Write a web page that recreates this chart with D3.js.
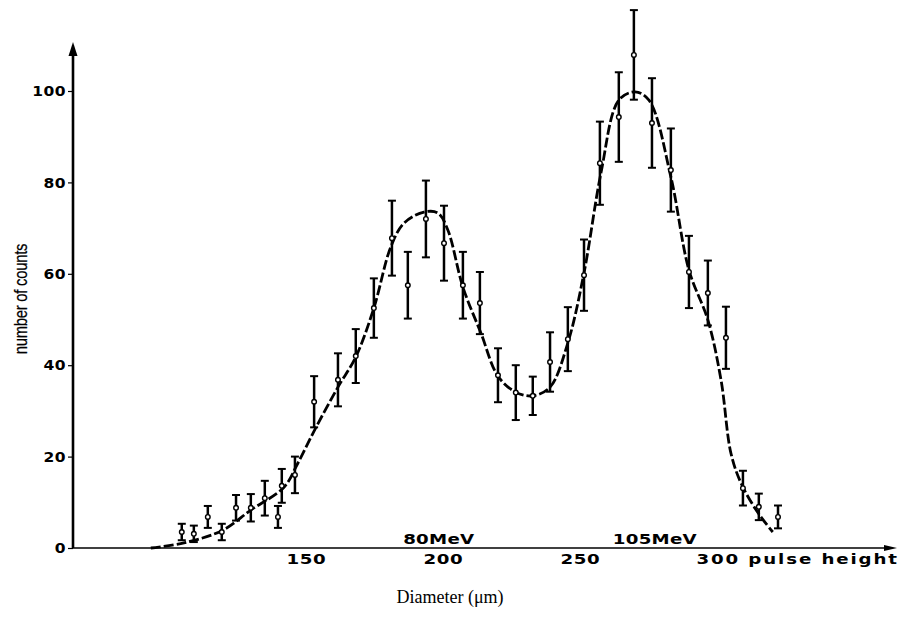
<!DOCTYPE html>
<html><head><meta charset="utf-8">
<script src="https://cdn.jsdelivr.net/npm/d3@7"></script>
<style>
html,body{margin:0;padding:0;background:#fff;}
svg{display:block;}
.tk{font-family:"DejaVu Sans",sans-serif;font-weight:bold;font-size:13.5px;letter-spacing:0.4px;fill:#000;}
</style></head>
<body><svg id="c" width="900" height="623"></svg>
<script>
// pulse height of each measured point
const pulseHeight = [104.7,109.1,114.2,119.3,124.5,129.9,135.0,139.8,141.2,146.0,153.0,161.7,168.2,174.8,181.4,187.2,193.8,200.4,207.3,213.5,220.1,226.6,232.8,239.1,245.6,251.5,257.3,264.2,269.7,276.3,283.2,289.8,296.7,303.3,309.5,315.3,322.3];
// number of counts
const counts = [3.5,3.1,6.8,3.5,8.8,8.8,10.9,6.8,13.6,16.0,32.0,36.8,42.0,52.5,67.8,57.5,72.0,66.7,57.5,53.6,37.8,34.0,33.3,40.7,45.7,59.7,84.2,94.3,107.9,93.0,82.7,60.4,55.8,46.0,13.1,9.0,6.8];
// statistical error (half-length of bar)
const errors = [1.8,1.8,2.4,1.8,2.8,3.0,3.8,2.4,3.7,4.0,5.6,5.8,5.9,6.5,8.2,7.3,8.4,8.2,7.3,6.8,5.9,6.0,4.2,6.5,7.0,7.8,9.1,9.8,9.8,9.8,9.1,7.9,7.1,6.8,3.8,2.9,2.5];
// fitted curve
const fitX = [93.4,105.5,119.7,129.9,142.0,147.1,153.6,161.7,168.2,174.8,181.0,185.8,193.1,198.2,201.8,207.3,213.9,220.1,226.6,232.8,239.1,245.6,251.5,257.7,264.2,270.1,275.2,283.2,289.8,296.7,301.5,305.1,308.8,315.0,320.4];
const fitY = [0,1.1,3.9,8.3,13.3,18.6,26.3,35.2,41.8,52.5,65.9,71.1,73.5,73.3,69.6,57.1,47.0,37.6,34.1,33.3,35.2,44.9,60.2,82.1,98.0,99.8,98.0,81.2,60.8,49.9,36.8,20.8,14.2,7.7,3.5];
const xTicks = [150,200,250,300];
const xTickLabels = ["150","200","250","300 pulse height"];
const yTicks = [0,20,40,60,80,100];
const peakLabels = ["80MeV","105MeV"];
const peakLabelX = [185.5,262.0];

const svg = d3.select("#c");
const x = d3.scaleLinear().domain([65,365]).range([73,895]);
const y = d3.scaleLinear().domain([0,100]).range([548,91]);
const SX = 1.35; // wide lettering of the original

// y axis
svg.append("line").attr("x1",73).attr("x2",73).attr("y1",y(0)).attr("y2",52)
  .attr("stroke","#000").attr("stroke-width",2.6);
svg.append("path").attr("d","M73,42 L68.5,56 L77.5,56 Z").attr("fill","#000");
const ya = svg.append("g").attr("transform","translate(73,0)")
  .call(d3.axisLeft(y).tickValues(yTicks).tickSize(5).tickPadding(0).tickFormat(d3.format("d")));
ya.select(".domain").remove();
ya.selectAll("line").attr("stroke","#000").attr("stroke-width",1.2);
ya.selectAll("text").attr("class","tk").attr("font-size",null).attr("font-family",null)
  .attr("dy","0.35em").attr("x",-7/1.15).attr("transform","scale(1.15,1)");

svg.append("text").attr("transform","translate(27,299) rotate(-90) scale(0.8,1)")
  .attr("text-anchor","middle")
  .style("font-family","'Liberation Sans',sans-serif")
  .style("font-size","18.5px").style("letter-spacing","-0.3px")
  .style("stroke","#000").style("stroke-width","0.25px")
  .text("number of counts");

// x axis
svg.append("line").attr("x1",73).attr("x2",888).attr("y1",y(0)).attr("y2",y(0))
  .attr("stroke","#000").attr("stroke-width",1.5);
svg.append("path").attr("d",`M897,${y(0)} L884,${y(0)-3} L884,${y(0)+3} Z`).attr("fill","#000");
const xa = svg.append("g").attr("transform",`translate(0,${y(0)})`)
  .call(d3.axisBottom(x).tickValues(xTicks).tickSize(0).tickPadding(6).tickFormat((d,i)=>xTickLabels[i]));
xa.select(".domain").remove();
xa.selectAll("text").attr("class","tk").attr("font-size",null).attr("font-family",null).attr("dy","0.71em")
  .attr("transform",`scale(${SX},1)`);
xa.selectAll("text").filter((d,i)=>i===xTicks.length-1)
  .attr("text-anchor","start").attr("x",-21/SX).style("letter-spacing","1.4px");

// peak labels
svg.selectAll(".pk").data(peakLabels).join("text").attr("class","tk")
  .attr("transform",(d,i)=>`translate(${x(peakLabelX[i])},${y(0)-4}) scale(${SX},1)`)
  .style("letter-spacing","0.2px").text(d=>d);

// fitted curve
const line = d3.line().x(d=>x(d[0])).y(d=>y(d[1])).curve(d3.curveCatmullRom.alpha(0.5));
svg.append("path").datum(fitX.map((v,i)=>[v,fitY[i]])).attr("d",line)
  .attr("fill","none").attr("stroke","#000").attr("stroke-width",2.8).attr("stroke-dasharray","10,3");

// error bars
const pts = pulseHeight.map((v,i)=>({x:v,c:counts[i],e:errors[i]}));
const g = svg.append("g");
g.selectAll(".eb").data(pts).join("line")
  .attr("x1",d=>x(d.x)).attr("x2",d=>x(d.x)).attr("y1",d=>y(d.c+d.e)).attr("y2",d=>y(d.c-d.e))
  .attr("stroke","#000").attr("stroke-width",2.5);
["+","-"].forEach(s=>{
  g.selectAll(".cap"+(s==="+"?"t":"b")).data(pts).join("line")
    .attr("x1",d=>x(d.x)-4).attr("x2",d=>x(d.x)+4)
    .attr("y1",d=>y(s==="+"?d.c+d.e:d.c-d.e)).attr("y2",d=>y(s==="+"?d.c+d.e:d.c-d.e))
    .attr("stroke","#000").attr("stroke-width",2);
});
g.selectAll(".pt").data(pts).join("circle")
  .attr("cx",d=>x(d.x)).attr("cy",d=>y(d.c)).attr("r",2.3)
  .attr("fill","#fff").attr("stroke","#000").attr("stroke-width",1.4);

svg.append("text").attr("x",450).attr("y",603).attr("text-anchor","middle")
  .style("font-family","'Liberation Serif','Times New Roman',serif").style("font-size","18px")
  .text("Diameter (μm)");
</script></body></html>
